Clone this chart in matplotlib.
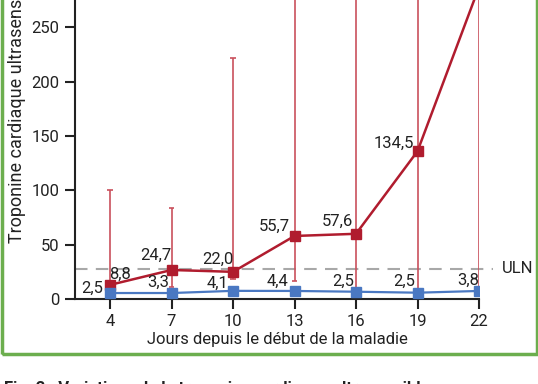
import matplotlib.pyplot as plt
from matplotlib.patches import Rectangle

# data
days = [4, 7, 10, 13, 16, 19, 22]
red_vals = [13, 26.7, 25, 58, 60, 136, 287]
red_labels = ["8,8", "24,7", "22,0", "55,7", "57,6", "134,5", None]
red_upper = [100, 84, 222, 330, 340, 420, 600]
red_lower = [13, 11.3, 18.4, 16.8, 7, 6, 8]
blue_vals = [5.5, 5.5, 7.5, 7.4, 6.7, 5.8, 7.4]
blue_labels = ["2,5", "3,3", "4,1", "4,4", "2,5", "2,5", "3,8"]
uln = 28
yticks = [0, 50, 100, 150, 200, 250, 300]

# label offsets in pixels (layout only)
red_off = [(10, 11), (-16, 15), (-15, 13), (-20, 10), (-19, 12), (-24, 8), (0, 0)]
blue_off = [(-18, 5), (-13, 11), (-16, 8), (-17, 10), (-13, 10), (-13, 11), (-11, 11)]

plt.rcParams['font.family'] = ['Roboto', 'DejaVu Sans']
txt = '#222222'
red = '#b01c2e'
red_err = '#c9505c'
blue = '#4a78c2'
fs = 12

fig = plt.figure(figsize=(5.38, 3.84), dpi=100)
ax = fig.add_axes([75 / 538, 85 / 384, 404 / 538, 326 / 384])

# error bars
for d, v, lo, hi in zip(days, red_vals, red_lower, red_upper):
    ax.vlines(d, lo, hi, color=red_err, lw=1.2, zorder=2)
    ax.hlines([lo, hi], d - 0.13, d + 0.13, color=red_err, lw=1.2, zorder=2)

ax.plot([2.29, 22.7], [uln, uln], color='#a8a8a8', lw=1.5, dashes=(6, 4),
        clip_on=False, zorder=1)
ax.text(23.1, uln, "ULN", color=txt, fontsize=fs, va='center', ha='left')

ax.plot(days, blue_vals, color=blue, lw=1.6, marker='s', ms=6.5, zorder=4)
ax.plot(days, red_vals, color=red, lw=1.8, marker='s', ms=6.5, zorder=3)

for d, v, lab, off in zip(days, red_vals, red_labels, red_off):
    if lab:
        ax.annotate(lab, (d, v), xytext=off, textcoords='offset pixels',
                    ha='center', va='center', fontsize=fs, color=txt, zorder=5)
for d, v, lab, off in zip(days, blue_vals, blue_labels, blue_off):
    ax.annotate(lab, (d, v), xytext=off, textcoords='offset pixels',
                ha='center', va='center', fontsize=fs, color=txt, zorder=5)

ax.set_xlim(2.29, 22)
ax.set_ylim(0, 300)
ax.set_xticks(days)
ax.set_yticks(yticks)
ax.tick_params(axis='both', direction='out', length=7, width=1.5,
               labelsize=fs, labelcolor=txt, color=txt, pad=4)
for s in ['top', 'right']:
    ax.spines[s].set_visible(False)
for s in ['left', 'bottom']:
    ax.spines[s].set_linewidth(1.5)
    ax.spines[s].set_color(txt)

ax.set_xlabel("Jours depuis le début de la maladie", fontsize=fs, color=txt,
              labelpad=2)
fig.text(17 / 538, (384 - 243) / 384, "Troponine cardiaque ultrasensible (ng/L)",
         rotation=90, ha='center', va='bottom', fontsize=13, color=txt)

# green frame around the figure panel
fig.patches.append(Rectangle((1.5 / 538, (384 - 354) / 384), 535 / 538, 1.2,
                             transform=fig.transFigure, fill=False,
                             edgecolor='#6cae4e', lw=2.5))
fig.text(4 / 538, (384 - 381) / 384, "Fig. 2 : Variations de la troponine cardiaque ultrasensible",
         ha='left', va='top', fontsize=fs, color=txt, fontweight='bold')

fig.savefig("out.png", dpi=100)
